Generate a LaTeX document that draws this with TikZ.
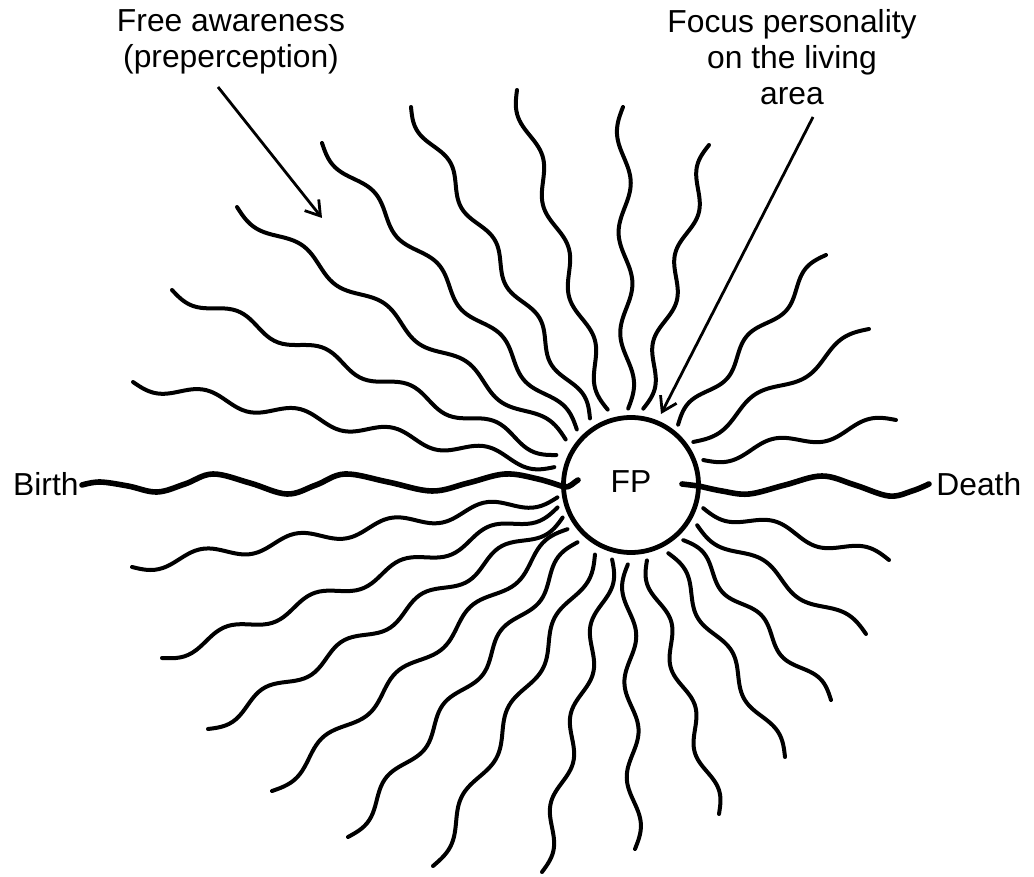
\documentclass[tikz,border=0pt]{standalone}
\usepackage{fontspec}
\setmainfont{Liberation Sans}
\usetikzlibrary{arrows.meta}

\newcommand\wavelen{95}
\newcommand\wamp{6.5}
\newcommand\wray[4]{%
 \pgfmathsetmacro\wdx{#3-#1}%
 \pgfmathsetmacro\wdy{#4-#2}%
 \pgfmathsetmacro\wlen{veclen(\wdx,\wdy)}%
 \pgfmathsetmacro\wnx{-(\wdy)/\wlen}%
 \pgfmathsetmacro\wny{(\wdx)/\wlen}%
 \pgfmathsetmacro\wcyc{max(1,round(2*\wlen/\wavelen))*180}%
 \draw[rayline] plot[variable=\t, domain=0:1, samples=100, smooth]
   ({#1+(\wdx)*\t+\wamp*sin(\wcyc*\t)*(\wnx)},{#2+(\wdy)*\t+\wamp*sin(\wcyc*\t)*(\wny)});%
}

\begin{document}
\begin{tikzpicture}[x=0.5pt,y=-0.5pt,
  rayline/.style={line width=2pt, line cap=round, line join=round},
  lifeline/.style={line width=2.8pt, line cap=round, line join=round},
  lbl/.style={font=\fontsize{15.9}{18}\selectfont, align=center, inner sep=0pt},
  pointer/.style={line width=1.4pt, -{Straight Barb[length=7pt,width=9pt,line width=1.4pt]}}]
\useasboundingbox (0,0) rectangle (1034,877);

% focus personality circle
\node[circle, draw, line width=2.4pt, minimum size=67.5pt, inner sep=0pt] (fp) at (631,485) {};
\node[lbl] (fptext) at (631,482) {FP};

% labels
\node[lbl, anchor=north] (free) at (231,9) {Free awareness\\(preperception)};
\node[lbl, anchor=north] (focus) at (792,9) {Focus personality\\on the living\\area};
\node[lbl, anchor=east] (birth) at (79,484) {Birth};
\node[lbl, anchor=west] (death) at (936,484) {Death};

% pointers
\coordinate (fa-s) at (218,87);
\coordinate (fa-t) at (322,218);
\coordinate (fo-s) at (813,117);
\coordinate (fo-t) at (661,414);
\draw[pointer] (fa-s) -- (fa-t);
\draw[pointer] (fo-s) -- (fo-t);

% rays (outer end -> inner end)
\wray{133}{382}{555}{467}
\wray{172}{290}{557}{455}
\wray{237}{207}{566}{440}
\wray{322}{143}{577}{430}
\wray{411}{107}{590}{419}
\wray{517}{90}{608}{410}
\wray{623}{107}{628}{409}
\wray{709}{145}{643}{409}
\wray{826}{255}{678}{425}
\wray{869}{329}{693}{442}
\wray{896}{420}{703}{460}
\wray{889}{560}{703}{508}
\wray{866}{634}{697}{525}
\wray{831}{700}{683}{540}
\wray{785}{757}{668}{553}
\wray{719}{814}{647}{560}
\wray{635}{849}{628}{564}
\wray{542}{872}{612}{559}
\wray{433}{866}{595}{554}
\wray{348}{837}{578}{542}
\wray{272}{791}{568}{529}
\wray{208}{729}{563}{517}
\wray{162}{658}{558}{507}
\wray{132}{567}{558}{497}

% birth line
\draw[lifeline] plot[smooth, tension=0.6] coordinates {
 (82,485) (100,482) (128,486) (157,492) (185,484) (213,474) (250,483)
 (287,494) (316,485) (345,474) (388,482) (432,491) (468,483) (505,474)
 (538,479) (564,487)}
 .. controls (570,488) and (574,482) .. (578,480);
% death line
\draw[lifeline] (682,484) -- (699,486)
 plot[smooth, tension=0.6] coordinates {
 (699,486) (722,491) (749,494) (785,485) (822,476) (855,485) (889,496)
 (912,491) (929,484)};
\end{tikzpicture}
\end{document}
